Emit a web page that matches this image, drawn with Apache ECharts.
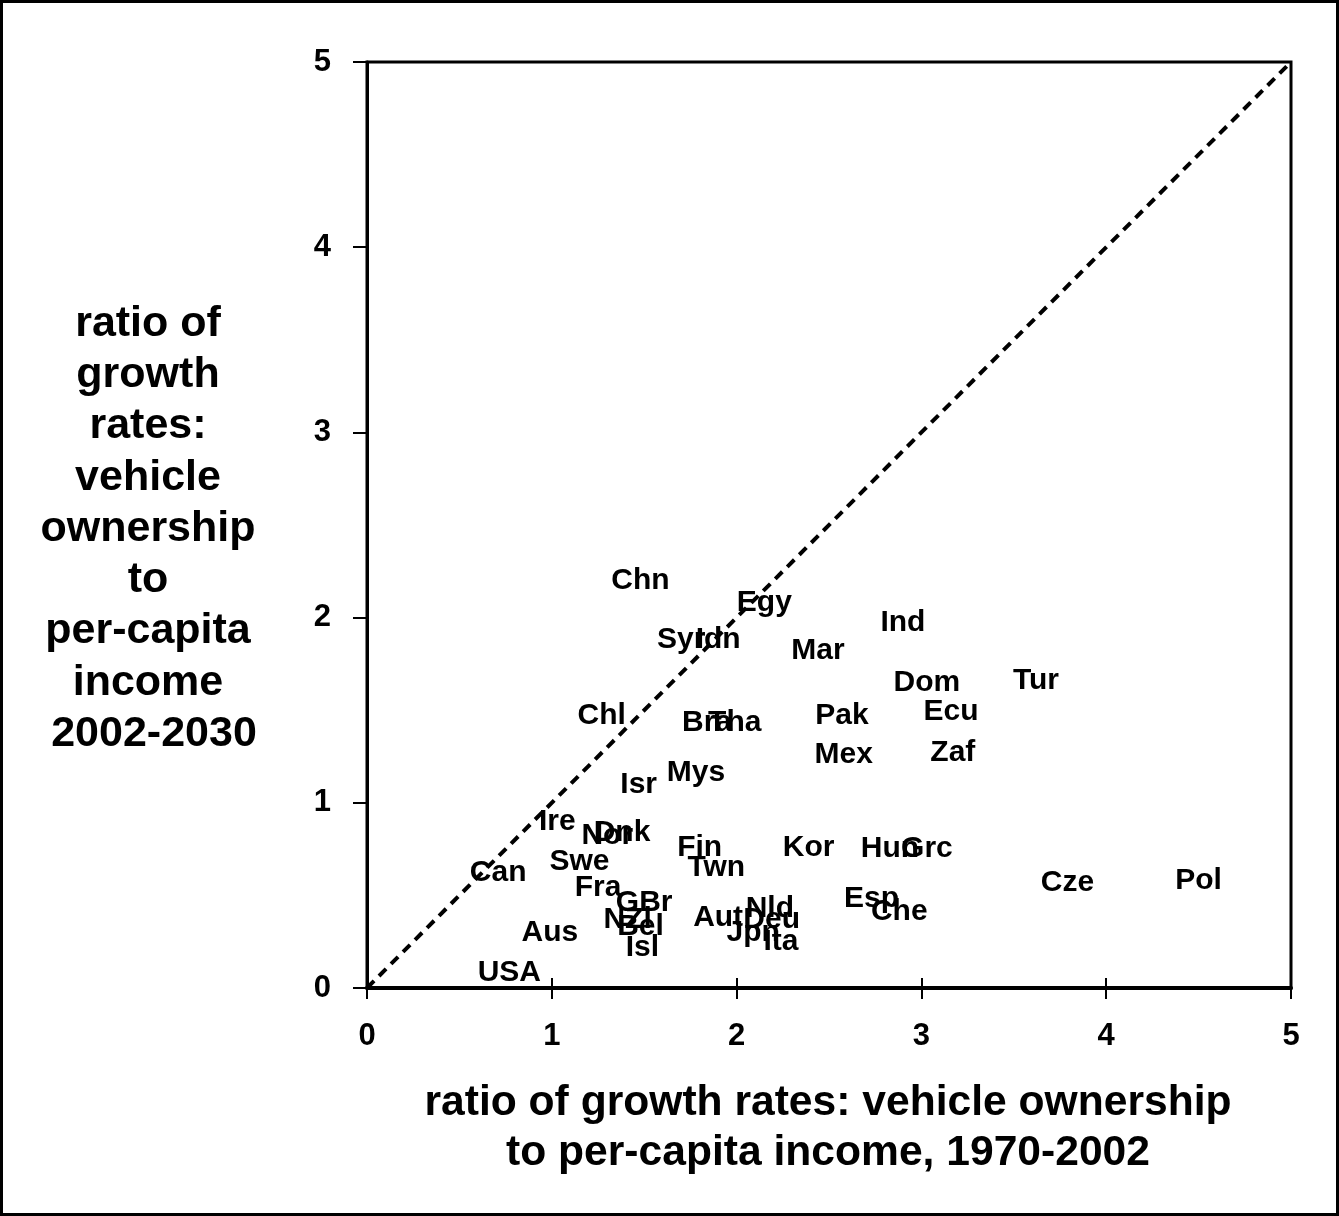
<!DOCTYPE html>
<html>
<head>
<meta charset="utf-8">
<script src="https://cdn.jsdelivr.net/npm/echarts@6/dist/echarts.min.js"></script>
<style>
  html, body { margin: 0; padding: 0; background: #fff; }
  #chart { width: 1339px; height: 1216px; }
</style>
</head>
<body>
<div id="chart"></div>
<script>
// Country codes with growth-ratio pairs (1970-2002 vs 2002-2030)
const countries = ['Chn','Egy','Syr','Idn','Mar','Ind','Dom','Tur','Ecu','Pak','Zaf','Mex','Chl','Bra','Tha','Mys','Isr',
  'Ire','Dnk','Nor','Fin','Twn','Kor','Swe','Can','Fra','GBr','NZl','Bel','Isl','Aus','USA','Aut','Nld','Deu','Jpn','Ita',
  'Hun','Grc','Esp','Che','Cze','Pol'];
const ratioPast = [1.48,2.15,1.70,1.90,2.44,2.90,3.03,3.62,3.16,2.57,3.17,2.58,1.27,1.84,1.99,1.78,1.47,
  1.03,1.38,1.30,1.80,1.89,2.39,1.15,0.71,1.25,1.50,1.41,1.48,1.49,0.99,0.77,1.90,2.18,2.19,2.09,2.24,
  2.83,3.03,2.73,2.88,3.79,4.50];
const ratioFuture = [2.20,2.08,1.88,1.88,1.82,1.97,1.65,1.66,1.49,1.47,1.27,1.26,1.47,1.43,1.43,1.16,1.10,
  0.90,0.84,0.82,0.76,0.65,0.76,0.68,0.62,0.54,0.46,0.37,0.33,0.22,0.30,0.08,0.38,0.43,0.37,0.30,0.25,
  0.75,0.75,0.48,0.41,0.57,0.58];
const equalityLine = [[0, 0], [5, 5]];
const axisTicks = [0, 1, 2, 3, 4, 5];

const FONT = '"Liberation Sans", Arial, sans-serif';

const points = countries.map((c, i) => ({ name: c, value: [ratioPast[i], ratioFuture[i]] }));

const chart = echarts.init(document.getElementById('chart'), null, { renderer: 'canvas' });

const tickLabel = {
  color: '#000', fontFamily: FONT, fontWeight: 'bold', fontSize: 31
};

chart.setOption({
  backgroundColor: '#fff',
  animation: false,
  grid: {
    left: 367, top: 62, right: 48, bottom: 228,
    show: true, borderColor: '#000', borderWidth: 3
  },
  xAxis: [{
    type: 'value', min: axisTicks[0], max: axisTicks[axisTicks.length - 1], interval: 1,
    splitLine: { show: false },
    axisLine: { show: true, onZero: false, lineStyle: { color: '#000', width: 4 } },
    axisTick: { show: true, inside: false, length: 11, lineStyle: { color: '#000', width: 2 } },
    axisLabel: Object.assign({ margin: 33 }, tickLabel)
  }, {
    type: 'value', min: 0, max: 5, interval: 1, position: 'bottom',
    splitLine: { show: false },
    axisLine: { show: false },
    axisTick: { show: true, inside: true, length: 10, lineStyle: { color: '#000', width: 2 } },
    axisLabel: { show: false }
  }],
  yAxis: {
    type: 'value', min: axisTicks[0], max: axisTicks[axisTicks.length - 1], interval: 1,
    splitLine: { show: false },
    axisLine: { show: true, onZero: false, lineStyle: { color: '#000', width: 3 } },
    axisTick: { show: true, inside: false, length: 14, lineStyle: { color: '#000', width: 2 } },
    axisLabel: Object.assign({ margin: 36, padding: [0, 0, 6, 0] }, tickLabel)
  },
  series: [{
    type: 'line',
    data: equalityLine,
    symbol: 'none',
    silent: true,
    lineStyle: { color: '#000', width: 4, type: [10, 7] }
  }, {
    type: 'scatter',
    data: points,
    symbolSize: 1,
    itemStyle: { color: 'transparent', opacity: 1 },
    label: {
      show: true,
      position: 'inside',
      formatter: p => p.name,
      color: '#000',
      opacity: 1,
      textBorderWidth: 0,
      fontFamily: FONT,
      fontWeight: 'bold',
      fontSize: 30
    },
    labelLayout: { hideOverlap: false }
  }],
  graphic: [{
    type: 'rect',
    shape: { x: 1.5, y: 1.5, width: 1336, height: 1213 },
    style: { fill: 'none', stroke: '#000', lineWidth: 3 },
    silent: true
  }, {
    type: 'text',
    x: 148, y: 529,
    style: {
      text: 'ratio of\ngrowth\nrates:\nvehicle\nownership\nto\nper-capita\nincome\n 2002-2030',
      font: 'bold 43px ' + FONT,
      lineHeight: 51.3,
      fill: '#000',
      align: 'center',
      verticalAlign: 'middle'
    }
  }, {
    type: 'text',
    x: 828, y: 1128,
    style: {
      text: 'ratio of growth rates: vehicle ownership\nto per-capita income, 1970-2002',
      font: 'bold 42.6px ' + FONT,
      lineHeight: 50,
      fill: '#000',
      align: 'center',
      verticalAlign: 'middle'
    }
  }]
});
</script>
</body>
</html>
